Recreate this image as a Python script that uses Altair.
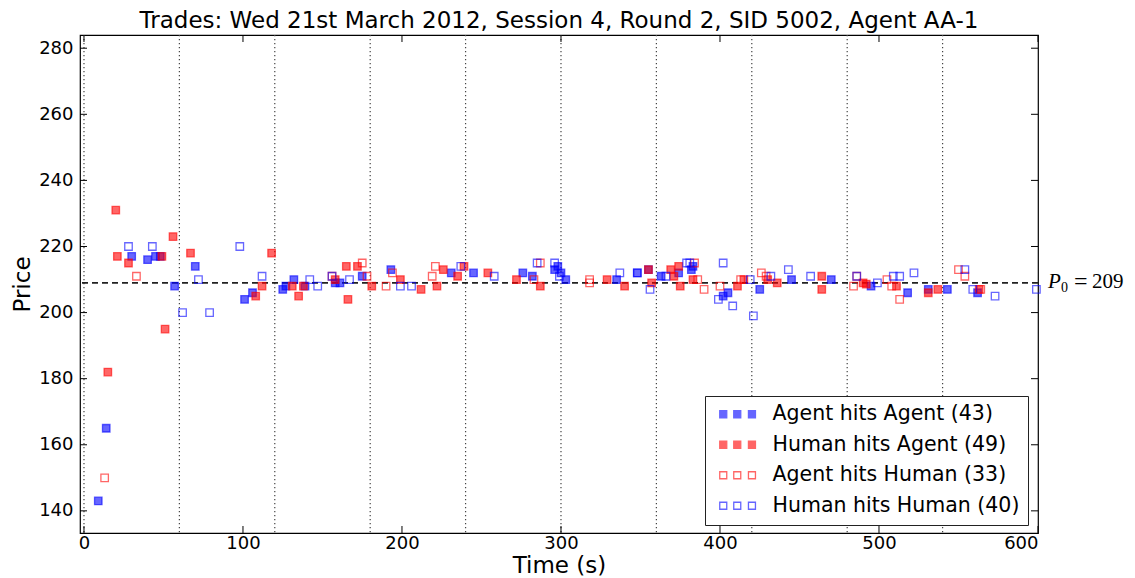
import altair as alt
import pandas as pd

# ---- data ----
aa_time = [9, 14, 30, 40, 45, 48, 57, 70, 101, 106, 125, 127, 132, 139, 158, 161, 175, 193,
           231, 245, 276, 282, 296, 298, 300, 303, 335, 348, 355, 363, 374, 382, 383, 402,
           405, 425, 445, 470, 495, 518, 531, 543, 562]
aa_price = [143, 165, 217, 216, 217, 217, 208, 214, 204, 206, 207, 208, 210, 208, 209, 209, 211, 213,
            212, 212, 212, 211, 213, 214, 212, 210, 210, 212, 213, 211, 212, 213, 214, 205,
            206, 207, 210, 210, 208, 206, 207, 207, 206]

ha_time = [15, 20, 21, 28, 49, 51, 56, 67, 108, 112, 118, 131, 135, 138, 158, 165, 166, 172,
           181, 199, 212, 222, 226, 235, 239, 254, 272, 287, 329, 340, 355, 357, 369, 371,
           374, 375, 383, 411, 415, 430, 436, 464, 464, 490, 492, 511, 531, 537, 563]
ha_price = [182, 231, 217, 215, 217, 195, 223, 218, 205, 208, 218, 208, 205, 208, 210, 214, 204, 214,
            208, 210, 207, 208, 213, 211, 214, 212, 210, 208, 210, 208, 213, 209, 213, 211,
            214, 208, 210, 208, 210, 210, 209, 211, 207, 209, 208.6, 208, 206, 207, 207]

ah_time = [13, 33, 156, 175, 178, 190, 194, 219, 221, 283, 287, 318, 318, 384, 386, 390, 400,
           413, 426, 429, 484, 486, 505, 508, 513, 550, 554, 564]
ah_price = [150, 211, 211, 215, 211, 208, 212, 211, 214, 210, 215, 210, 209, 215, 210, 207, 208,
            210, 212, 211, 208, 211, 210, 208, 204, 213, 211, 207]

hh_time = [28, 43, 62, 72, 79, 98, 112, 142, 147, 156, 167, 199, 206, 237, 258, 285, 296, 299,
           337, 348, 356, 366, 379, 381, 399, 402, 408, 419, 421, 432, 443, 457, 486, 499,
           509, 513, 522, 554, 559, 573, 599]
hh_price = [220, 220, 200, 210, 200, 220, 211, 210, 208, 211, 210, 208, 208, 214, 211, 215, 215, 211,
            212, 212, 207, 211, 215, 215, 204, 215, 202, 210, 199, 211, 213, 211, 211, 209,
            211, 211, 212, 213, 207, 205, 207]

series_names = ["Agent hits Agent (43)", "Human hits Agent (49)",
                "Agent hits Human (33)", "Human hits Human (40)"]
fill_colors = ["#0000ff", "#ff0000", "transparent", "transparent"]
stroke_colors = ["#0000ff", "#ff0000", "#ff0000", "#0000ff"]

session_marks = [0, 60, 120, 180, 240, 300, 360, 420, 480, 540]
p0 = 209
x_ticks = [0, 100, 200, 300, 400, 500, 600]
y_ticks = [140, 160, 180, 200, 220, 240, 260, 280]

rows = []
for name, ts, ps in zip(series_names,
                        [aa_time, ha_time, ah_time, hh_time],
                        [aa_price, ha_price, ah_price, hh_price]):
    for t, p in zip(ts, ps):
        rows.append({"time": t, "price": p, "type": name})
df = pd.DataFrame(rows)

W, H = 958, 498
xscale = alt.Scale(domain=[-2.5, 600], nice=False, zero=False)
yscale = alt.Scale(domain=[133.3, 284], nice=False, zero=False)

xaxis = alt.Axis(values=x_ticks, title="Time (s)", format="d", labelPadding=1,
                 titlePadding=2, ticks=False, domain=False, grid=False)
yaxis = alt.Axis(values=y_ticks, title="Price", format="d", labelPadding=7,
                 titlePadding=4, ticks=False, domain=False, grid=False)

legend_path = ("M-0.5,-0.5H0.5V0.5H-0.5Z M1.5,-0.5H2.5V0.5H1.5Z M3.6,-0.5H4.6V0.5H3.6Z")
leg = alt.Legend(orient="none", legendX=625, legendY=361, title=None,
                 labelFontSize=20.5, labelFont="DejaVu Sans", labelColor="black",
                 symbolType=legend_path, symbolSize=196, symbolStrokeWidth=1.3,
                 symbolOpacity=0.6, labelOffset=39, rowPadding=9.5, padding=8,
                 strokeColor="#222", fillColor="white", labelLimit=500,
                 cornerRadius=0)

base = alt.Chart(df)

points = base.mark_point(shape="square", size=56, strokeWidth=1.3,
                         fillOpacity=0.6, strokeOpacity=0.6).encode(
    x=alt.X("time:Q", scale=xscale, axis=xaxis),
    y=alt.Y("price:Q", scale=yscale, axis=yaxis),
    fill=alt.Fill("type:N", scale=alt.Scale(domain=series_names, range=fill_colors), legend=leg),
    stroke=alt.Stroke("type:N", scale=alt.Scale(domain=series_names, range=stroke_colors), legend=leg),
)

vlines = alt.Chart(pd.DataFrame({"t": session_marks})).mark_rule(
    color="#444", strokeWidth=1.2, strokeDash=[1.2, 2.8]).encode(
    x=alt.X("t:Q", scale=xscale))

hline = alt.Chart(pd.DataFrame({"p": [p0]})).mark_rule(
    color="#222", strokeWidth=1.6, strokeDash=[6, 4]).encode(
    y=alt.Y("p:Q", scale=yscale))

xt = pd.DataFrame({"t": x_ticks})
yt = pd.DataFrame({"p": y_ticks})
tick_style = dict(color="black", strokeWidth=1)
bt = alt.Chart(xt).mark_rule(**tick_style).encode(
    x=alt.X("t:Q", scale=xscale), y=alt.value(H), y2=alt.value(H - 7))
tt = alt.Chart(xt).mark_rule(**tick_style).encode(
    x=alt.X("t:Q", scale=xscale), y=alt.value(0), y2=alt.value(7))
lt = alt.Chart(yt).mark_rule(**tick_style).encode(
    y=alt.Y("p:Q", scale=yscale), x=alt.value(0), x2=alt.value(7))
rt = alt.Chart(yt).mark_rule(**tick_style).encode(
    y=alt.Y("p:Q", scale=yscale), x=alt.value(W - 7), x2=alt.value(W))

lab = pd.DataFrame({"t": [600], "p": [p0]})


def p0_text(txt, dx, dy, size, style="normal"):
    return alt.Chart(lab).mark_text(text=txt, font="Liberation Serif", fontSize=size,
                                    fontStyle=style, align="left", baseline="middle",
                                    dx=dx, dy=dy, color="black").encode(
        x=alt.X("t:Q", scale=xscale), y=alt.Y("p:Q", scale=yscale))


lab_p = p0_text("P", 10, -1, 21, "italic")
lab_0 = p0_text("0", 23, 5, 14)
lab_e = p0_text("=", 36, -1, 24)
lab_v = p0_text("209", 54, -1, 21)

chart = alt.layer(vlines, hline, points, bt, tt, lt, rt, lab_p, lab_0, lab_e, lab_v).properties(
    width=W, height=H,
    title=alt.Title("Trades: Wed 21st March 2012, Session 4, Round 2, SID 5002, Agent AA-1",
                    fontSize=23, font="DejaVu Sans", fontWeight="normal", color="black",
                    offset=1, anchor="middle"),
    autosize=alt.AutoSizeParams(type="none"),
    padding={"left": 72, "top": 27, "right": 89, "bottom": 45},
).configure(background="white").configure_view(
    stroke="black", strokeWidth=1.2
).configure_axis(
    labelFont="DejaVu Sans", labelFontSize=18, labelColor="black",
    titleFont="DejaVu Sans", titleFontSize=23, titleFontWeight="normal", titleColor="black"
)

chart.save("out.html", embed_options={"renderer": "svg", "actions": False})
